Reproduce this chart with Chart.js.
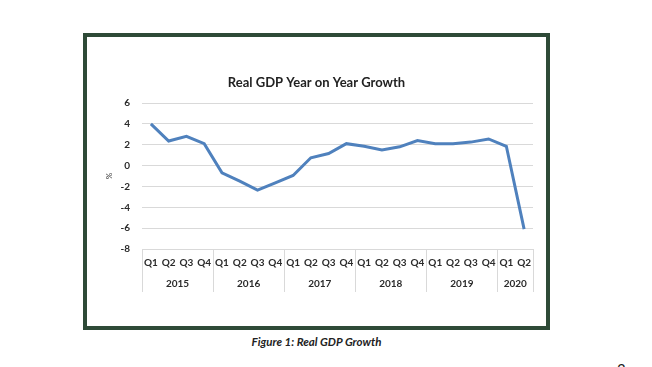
<!DOCTYPE html>
<html>
<head>
<meta charset="utf-8">
<script src="https://cdn.jsdelivr.net/npm/chart.js@4"></script>
<style>
  html, body { margin: 0; padding: 0; background: #fff; width: 652px; height: 367px; overflow: hidden; position: relative; font-family: Lato, sans-serif; }
  #frame { position: absolute; left: 83px; top: 33px; width: 459px; height: 289px; border: 4px solid #2e4a37; background: #fff; }
  #wrap { position: absolute; left: 0; top: 0; width: 459px; height: 289px; }
  #caption { position: absolute; left: 0; width: 633px; top: 335px; text-align: center; font: italic bold 11.5px Lato, sans-serif; color: #222; }
  #page { position: absolute; left: 617px; top: 362px; font: 15px Lato, sans-serif; line-height: 15px; color: #222; }
</style>
</head>
<body>
<div id="frame"><div id="wrap"><canvas id="c" width="459" height="289"></canvas></div></div>
<div id="caption">Figure 1: Real GDP Growth</div>
<div id="page">3</div>
<script>
const quarters = ['Q1','Q2','Q3','Q4','Q1','Q2','Q3','Q4','Q1','Q2','Q3','Q4','Q1','Q2','Q3','Q4','Q1','Q2','Q3','Q4','Q1','Q2'];
const years = ['2015','2016','2017','2018','2019','2020'];
const quartersPerYear = [4,4,4,4,4,2];
const growth = [4.0,2.35,2.8,2.1,-0.7,-1.5,-2.35,-1.65,-0.95,0.75,1.15,2.1,1.85,1.5,1.8,2.4,2.1,2.1,2.25,2.55,1.85,-6.1];
const yTicks = { min: -8, max: 6, step: 2 };

const textColor = '#2b2b2b';
const gridColor = '#d9d9d9';

const yearPlugin = {
  id: 'yearGroups',
  afterDraw(chart) {
    const ctx = chart.ctx;
    const xs = chart.scales.x;
    const area = chart.chartArea;
    const y0 = area.bottom;
    const y1 = area.bottom + 43;
    ctx.save();
    ctx.strokeStyle = gridColor;
    ctx.lineWidth = 1;
    let idx = 0;
    const bounds = [area.left];
    years.forEach((yr, k) => {
      const first = idx, last = idx + quartersPerYear[k] - 1;
      const cx = (xs.getPixelForValue(first) + xs.getPixelForValue(last)) / 2;
      ctx.fillStyle = textColor;
      ctx.font = 'bold 10px Lato, sans-serif';
      ctx.textAlign = 'center';
      ctx.textBaseline = 'middle';
      ctx.fillText(yr, cx, area.bottom + 35);
      idx += quartersPerYear[k];
      if (idx < quarters.length) {
        bounds.push((xs.getPixelForValue(idx - 1) + xs.getPixelForValue(idx)) / 2);
      }
    });
    bounds.push(area.right);
    bounds.forEach(b => {
      const x = Math.round(b) + 0.5;
      ctx.beginPath();
      ctx.moveTo(x, y0);
      ctx.lineTo(x, y1);
      ctx.stroke();
    });
    ctx.restore();
  }
};

new Chart(document.getElementById('c'), {
  type: 'line',
  data: {
    labels: quarters,
    datasets: [{
      data: growth,
      borderColor: '#4f81bd',
      borderWidth: 3,
      pointRadius: 0,
      tension: 0,
      fill: false
    }]
  },
  options: {
    responsive: false,
    animation: false,
    devicePixelRatio: 1,
    layout: { padding: { left: 13, right: 13, top: 0, bottom: 0 } },
    plugins: {
      legend: { display: false },
      tooltip: { enabled: false },
      title: {
        display: true,
        text: 'Real GDP Year on Year Growth',
        color: '#222',
        font: { family: 'Lato, sans-serif', size: 13, weight: 'bold' },
        padding: { top: 38, bottom: 12.4 }
      }
    },
    scales: {
      x: {
        offset: true,
        grid: { display: false, drawTicks: false },
        border: { display: false },
        ticks: {
          color: textColor,
          font: { family: 'Lato, sans-serif', size: 10, weight: 'bold' },
          padding: 8,
          maxRotation: 0,
          autoSkip: false
        },
        afterFit(scale) { scale.height = 77; }
      },
      y: {
        min: yTicks.min,
        max: yTicks.max,
        grid: { color: gridColor, drawTicks: false },
        border: { display: false },
        ticks: {
          stepSize: yTicks.step,
          color: textColor,
          font: { family: 'Lato, sans-serif', size: 10, weight: 'bold' },
          padding: 12
        },
        title: {
          display: true,
          text: '%',
          color: textColor,
          font: { family: 'Lato, sans-serif', size: 8 },
          padding: { top: 5, bottom: 0 }
        },
        afterFit(scale) { scale.width = 42; }
      }
    }
  },
  plugins: [yearPlugin]
});
</script>
</body>
</html>
